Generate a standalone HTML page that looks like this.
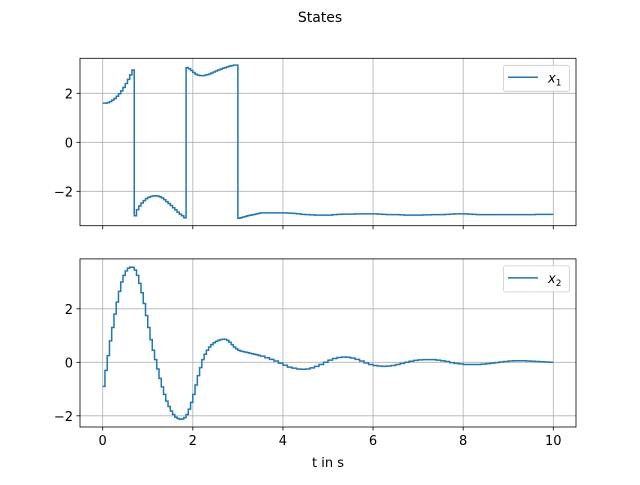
<!DOCTYPE html>
<html><head><meta charset="utf-8"><style>
body{margin:0;background:#fff;}
svg text{font-family:"DejaVu Sans","Liberation Sans",sans-serif;fill:#000;}
</style></head><body>
<svg id="fig" width="640" height="480" xmlns="http://www.w3.org/2000/svg">
<rect width="640" height="480" fill="#fff"/>
<text x="320" y="22" font-size="14" text-anchor="middle">States</text>
<g id="top"></g>
<g id="bot"></g>
</svg>
<script>
const times = [0,0.05,0.1,0.15,0.2,0.25,0.3,0.35,0.4,0.45,0.5,0.55,0.6,0.65,0.7,0.75,0.8,0.85,0.9,0.95,1.0,1.05,1.1,1.15,1.2,1.25,1.3,1.35,1.4,1.45,1.5,1.55,1.6,1.65,1.7,1.75,1.8,1.85,1.9,1.95,2.0,2.05,2.1,2.15,2.2,2.25,2.3,2.35,2.4,2.45,2.5,2.55,2.6,2.65,2.7,2.75,2.8,2.85,2.9,2.95,3.0,3.05,3.1,3.15,3.2,3.25,3.3,3.35,3.4,3.45,3.5,3.6,3.7,3.8,3.9,4.0,4.1,4.2,4.3,4.4,4.5,4.6,4.7,4.8,4.9,5.0,5.1,5.2,5.3,5.4,5.5,5.6,5.7,5.8,5.9,6.0,6.1,6.2,6.3,6.4,6.5,6.6,6.7,6.8,6.9,7.0,7.1,7.2,7.3,7.4,7.5,7.6,7.7,7.8,7.9,8.0,8.1,8.2,8.3,8.4,8.5,8.6,8.7,8.8,8.9,9.0,9.1,9.2,9.3,9.4,9.5,9.6,9.7,9.8,9.9,10.0];
const x1Values = [1.6,1.6,1.62,1.66,1.72,1.79,1.88,1.98,2.1,2.24,2.4,2.57,2.75,2.95,-3.0,-2.75,-2.6,-2.48,-2.38,-2.3,-2.25,-2.21,-2.19,-2.18,-2.19,-2.22,-2.27,-2.34,-2.42,-2.5,-2.58,-2.67,-2.76,-2.85,-2.93,-3.0,-3.08,3.05,3.0,2.93,2.85,2.78,2.74,2.72,2.72,2.73,2.76,2.79,2.83,2.87,2.91,2.95,2.98,3.02,3.05,3.08,3.11,3.13,3.15,3.15,-3.1,-3.08,-3.05,-3.03,-3.0,-2.98,-2.96,-2.94,-2.92,-2.9,-2.88,-2.88,-2.88,-2.88,-2.88,-2.88,-2.89,-2.9,-2.92,-2.94,-2.95,-2.96,-2.97,-2.97,-2.97,-2.97,-2.95,-2.94,-2.93,-2.93,-2.93,-2.92,-2.92,-2.92,-2.92,-2.92,-2.93,-2.94,-2.95,-2.95,-2.95,-2.96,-2.97,-2.97,-2.97,-2.97,-2.96,-2.96,-2.95,-2.95,-2.95,-2.94,-2.93,-2.92,-2.92,-2.92,-2.93,-2.94,-2.95,-2.95,-2.95,-2.95,-2.95,-2.95,-2.95,-2.95,-2.95,-2.95,-2.95,-2.95,-2.95,-2.94,-2.94,-2.94,-2.94];
const x2Values = [-0.9,-0.3,0.25,0.8,1.3,1.8,2.25,2.65,3.0,3.25,3.42,3.52,3.56,3.55,3.45,3.25,2.95,2.6,2.2,1.75,1.3,0.85,0.45,0.1,-0.25,-0.6,-0.92,-1.2,-1.45,-1.65,-1.82,-1.95,-2.05,-2.1,-2.13,-2.12,-2.07,-1.95,-1.75,-1.5,-1.2,-0.85,-0.5,-0.2,0.1,0.3,0.45,0.57,0.66,0.73,0.78,0.82,0.85,0.86,0.86,0.82,0.75,0.66,0.57,0.5,0.45,0.42,0.4,0.38,0.36,0.34,0.32,0.3,0.28,0.26,0.23,0.17,0.11,0.05,-0.03,-0.11,-0.18,-0.22,-0.25,-0.26,-0.25,-0.21,-0.15,-0.08,0,0.08,0.14,0.18,0.2,0.19,0.16,0.11,0.05,-0.02,-0.08,-0.12,-0.14,-0.15,-0.14,-0.12,-0.08,-0.04,0,0.04,0.07,0.09,0.1,0.1,0.1,0.08,0.06,0.03,-0.01,-0.04,-0.06,-0.08,-0.08,-0.08,-0.08,-0.07,-0.05,-0.03,-0.01,0.01,0.03,0.05,0.06,0.06,0.06,0.05,0.04,0.03,0.02,0.01,0];
const xTicks = [0,2,4,6,8,10];
const yTicksTop = [-2,0,2];
const yTicksBot = [-2,0,2];
const NS = 'http://www.w3.org/2000/svg';
const L = 80, R = 576;
const xs = t => 102.7 + t * 45.06;
function mk(parent, tag, attrs){const e=document.createElementNS(NS,tag);for(const k in attrs)e.setAttribute(k,attrs[k]);parent.appendChild(e);return e;}
function panel(gid, top, bottom, y0, ppu, yTicks, vals, sub, showX){
  const g = document.getElementById(gid);
  const ys = v => y0 - v * ppu;
  xTicks.forEach(t=>{
    const l = mk(g,'line',{x1:xs(t),x2:xs(t),y1:top,y2:bottom,stroke:'#b0b0b0','stroke-width':0.8});
    
    
    const tk = mk(g,'line',{x1:xs(t),x2:xs(t),y1:bottom,y2:bottom+3.5,stroke:'#000','stroke-width':0.8});
    
    
    if(showX){
      const tx = mk(g,'text',{x:xs(t),y:bottom+18,'font-size':13,'text-anchor':'middle'});
      tx.textContent = t;
      
      
    }
  });
  yTicks.forEach(v=>{
    const l = mk(g,'line',{x1:L,x2:R,y1:ys(v),y2:ys(v),stroke:'#b0b0b0','stroke-width':0.8});
    
    
    const tk = mk(g,'line',{x1:L-3.5,x2:L,y1:ys(v),y2:ys(v),stroke:'#000','stroke-width':0.8});
    
    
    const tx = mk(g,'text',{x:L-7,y:ys(v)+5,'font-size':13,'text-anchor':'end'});
    tx.textContent = v<0 ? '\u2212'+(-v) : v;
    
    
  });
  let d='';
  for(let i=0;i<times.length;i++){
    const x=xs(times[i]), y=ys(vals[i]);
    if(i===0) d+='M'+x+' '+y; else d+='V'+y;
    const xn = i<times.length-1 ? xs(times[i+1]) : x;
    d+='H'+xn;
  }
  const p = mk(g,'path',{d:d,fill:'none',stroke:'#1f77b4','stroke-width':1.5,'stroke-linejoin':'miter'});
  
  
  const fr = mk(g,'rect',{x:L,y:top,width:R-L,height:bottom-top,fill:'none',stroke:'#000','stroke-width':0.8});
  
  
  const lg = mk(g,'g',{});
  
  
  mk(lg,'rect',{x:503.5,y:top+7,width:66,height:26,rx:2,fill:'#fff','fill-opacity':0.8,stroke:'#ccc','stroke-width':0.8});
  mk(lg,'line',{x1:508,x2:538,y1:top+19,y2:top+19,stroke:'#1f77b4','stroke-width':1.5});
  const lt = mk(lg,'text',{x:548,y:top+24,'font-size':13,'font-style':'italic'});
  lt.innerHTML = 'x<tspan font-size="9" font-style="normal" dy="3">'+sub+'</tspan>';
  
  
}
panel('top',58.3,225.7,142.3,24.5,yTicksTop,x1Values,'1',false);
panel('bot',258.9,427,362.3,26.75,yTicksBot,x2Values,'2',true);
const xl = mk(document.getElementById('fig'),'text',{x:328,y:467,'font-size':13,'text-anchor':'middle'});
xl.textContent='t in s';


</script>
</body></html>
